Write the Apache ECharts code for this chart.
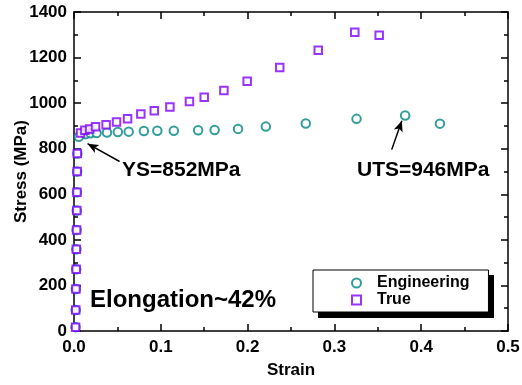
<!DOCTYPE html>
<html>
<head>
<meta charset="utf-8">
<script src="https://cdn.jsdelivr.net/npm/echarts@6/dist/echarts.min.js"></script>
<style>
  html, body { margin: 0; padding: 0; background: #fff; }
  #chart { width: 522px; height: 385px; }
</style>
</head>
<body>
<div id="chart"></div>
<script>
// Engineering stress-strain points
const engStrain = [0.0018, 0.0020, 0.0022, 0.0025, 0.0027, 0.0030, 0.0032, 0.0034, 0.0036, 0.0038,
  0.0055, 0.0133, 0.019, 0.026, 0.038, 0.0505, 0.063, 0.0805, 0.096, 0.115,
  0.143, 0.162, 0.189, 0.221, 0.267, 0.3255, 0.3815, 0.4216];
const engStress = [17, 92, 184, 271, 359, 443, 529, 609, 700, 779,
  852, 864, 868, 869, 871, 873, 875, 878, 879, 879,
  881, 882, 887, 897, 911, 931, 946, 910];

// True stress-strain points
const trueStrain = [0.0018, 0.0020, 0.0022, 0.0025, 0.0027, 0.0030, 0.0032, 0.0034, 0.0036, 0.0038,
  0.0075, 0.0125, 0.018, 0.0248, 0.037, 0.049, 0.0617, 0.077, 0.0925, 0.1105,
  0.133, 0.150, 0.1727, 0.1995, 0.237, 0.2814, 0.3235, 0.3516];
const trueStress = [17, 92, 184, 271, 359, 443, 529, 609, 700, 779,
  869, 881, 887, 896, 905, 917, 932, 952, 967, 983,
  1007, 1026, 1056, 1096, 1156, 1232, 1311, 1298];

// Annotation arrows (tail -> head) in strain/stress units
const ysArrow = [[0.0525, 744], [0.0156, 822]];
const utsArrow = [[0.366, 796], [0.3777, 923]];

const seriesNames = ['Engineering', 'True'];
const annotations = ['YS=852MPa', 'UTS=946MPa', 'Elongation~42%'];

const FONT = '"Liberation Sans", Arial, sans-serif';
const TEAL = '#00857f';
const PURPLE = '#8000ff';

const pairs = (xs, ys) => xs.map((x, i) => [x, ys[i]]);

const lineStyle = { color: '#000', width: 1.5 };
const tickStyle = { color: '#000', width: 1.5 };
const labelStyle = { color: '#000', fontSize: 17, fontWeight: 'bold', fontFamily: FONT };
const nameStyle = { color: '#000', fontSize: 17, fontWeight: 'bold', fontFamily: FONT };

function makeX(primary) {
  return {
    type: 'value', min: 0, max: 0.5, interval: 0.1,
    position: primary ? 'bottom' : 'top',
    axisLine: { show: true, onZero: false, lineStyle },
    axisTick: { show: true, inside: true, length: 7, lineStyle: tickStyle },
    minorTick: { show: true, splitNumber: 2, length: 4, lineStyle: tickStyle },
    splitLine: { show: false },
    axisLabel: primary
      ? Object.assign({ margin: 8, formatter: v => v.toFixed(1) }, labelStyle)
      : { show: false },
    name: primary ? 'Strain' : '',
    nameLocation: 'middle', nameGap: 31, nameMoveOverlap: false,
    nameTextStyle: nameStyle
  };
}
function makeY(primary) {
  return {
    type: 'value', min: 0, max: 1400, interval: 200,
    position: primary ? 'left' : 'right',
    axisLine: { show: true, onZero: false, lineStyle },
    axisTick: { show: true, inside: true, length: 7, lineStyle: tickStyle },
    minorTick: { show: true, splitNumber: 2, length: 4, lineStyle: tickStyle },
    splitLine: { show: false },
    axisLabel: primary ? Object.assign({ margin: 7, formatter: v => String(v) }, labelStyle) : { show: false },
    name: primary ? 'Stress (MPa)' : '',
    nameLocation: 'middle', nameGap: 44, nameRotate: 90, nameMoveOverlap: false,
    nameTextStyle: nameStyle
  };
}

const arrowLine = a => [{ coord: a[0] }, { coord: a[1] }];

const chart = echarts.init(document.getElementById('chart'), null, { renderer: 'canvas' });
chart.setOption({
  animation: false,
  backgroundColor: '#fff',
  grid: { left: 74, right: 14, top: 12, bottom: 54, containLabel: false, outerBoundsMode: 'none' },
  xAxis: [makeX(true), makeX(false)],
  yAxis: [makeY(true), makeY(false)],
  legend: {
    left: 313, top: 270, orient: 'vertical',
    itemWidth: 9, itemHeight: 9, itemGap: 1,
    padding: [5, 19, 4, 38],
    backgroundColor: '#fff', borderColor: '#000', borderWidth: 1,
    textStyle: { color: '#000', fontSize: 16, fontWeight: 'bold', fontFamily: FONT, padding: [0, 0, 0, 11] },
    data: [{ name: seriesNames[0], icon: 'emptyCircle' }, { name: seriesNames[1], icon: 'emptyRect' }]
  },
  series: [
    {
      name: seriesNames[0], type: 'scatter',
      data: pairs(engStrain, engStress),
      symbol: 'emptyCircle', symbolSize: 8.5,
      itemStyle: { color: TEAL, borderWidth: 2.2 },
      emphasis: { disabled: true }
    },
    {
      name: seriesNames[1], type: 'scatter',
      data: pairs(trueStrain, trueStress),
      symbol: 'emptyRect', symbolSize: 7.5,
      itemStyle: { color: PURPLE, borderWidth: 2.2 },
      emphasis: { disabled: true },
      markLine: {
        silent: true, animation: false,
        symbol: ['none', 'arrow'], symbolSize: [7, 11],
        label: { show: false },
        lineStyle: { color: '#000', width: 1.5, type: 'solid' },
        emphasis: { disabled: true },
        data: [arrowLine(ysArrow), arrowLine(utsArrow)]
      }
    }
  ],
  graphic: [
    // drop shadow behind the legend box
    { type: 'rect', z: 0, shape: { x: 318, y: 275, width: 176, height: 43 }, style: { fill: '#000' } },
    { type: 'text', left: 122, top: 160, style: { text: annotations[0], font: 'bold 21px ' + FONT, fill: '#000' } },
    { type: 'text', left: 357, top: 160, style: { text: annotations[1], font: 'bold 21px ' + FONT, fill: '#000' } },
    { type: 'text', left: 90, top: 288, style: { text: annotations[2], font: 'bold 24px ' + FONT, fill: '#000' } }
  ]
});
</script>
</body>
</html>
